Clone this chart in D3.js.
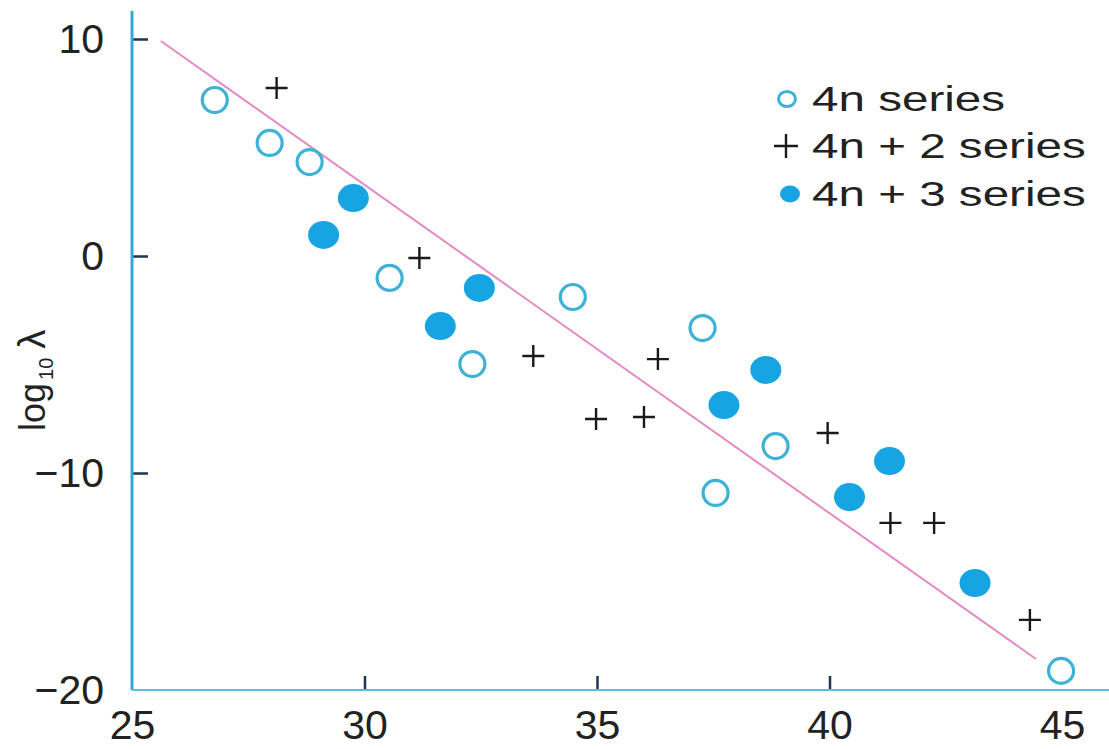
<!DOCTYPE html>
<html>
<head>
<meta charset="utf-8">
<script src="https://cdn.jsdelivr.net/npm/d3@7/dist/d3.min.js"></script>
<style>
  html, body { margin: 0; padding: 0; background: #ffffff; }
  svg { display: block; }
  text { font-family: "Liberation Sans", Arial, Helvetica, sans-serif; fill: #222; }
</style>
</head>
<body>
<svg id="chart" width="1109" height="749"></svg>
<script>
// ---- data ----
const xTickValues = [25, 30, 35, 40, 45];
const yTickValues = [10, 0, -10, -20];

// 4n series (open circles)
const series4n = [
  [26.78, 7.19], [27.96, 5.21], [28.82, 4.33], [30.54, -1.01], [32.32, -4.98],
  [34.48, -1.89], [37.27, -3.32], [37.55, -10.92], [38.84, -8.76], [44.98, -19.12]
];
// 4n + 2 series (plus signs)
const series4n2 = [
  [28.11, 7.74], [31.18, -0.09], [33.63, -4.61], [34.98, -7.51], [36.01, -7.42],
  [36.31, -4.75], [39.96, -8.16], [41.31, -12.30], [42.25, -12.30], [44.31, -16.77]
];
// 4n + 3 series (filled circles)
const series4n3 = [
  [29.12, 0.97], [29.76, 2.67], [31.63, -3.23], [32.47, -1.47], [37.73, -6.87],
  [38.63, -5.25], [40.43, -11.11], [41.29, -9.45], [43.13, -15.07]
];
// fitted straight line
const fitLine = [[25.62, 9.91], [44.44, -18.57]];

const legendLabels = ["4n series", "4n + 2 series", "4n + 3 series"];

// ---- drawing ----
const svg = d3.select("#chart");
const x = d3.scaleLinear().domain([25, 45]).range([132, 1062]);
const y = d3.scaleLinear().domain([-20, 10]).range([690, 39]);

const axisBlue = "#34a8da";
const tickDark = "#1f3550";
const openColor = "#3db2d6";
const fillColor = "#17a4e2";
const lineColor = "#e58ac3";
const textColor = "#262626";

// x axis
const xAxis = d3.axisBottom(x).tickValues(xTickValues).tickSize(-14).tickPadding(20)
  .tickFormat(d3.format("d"));
const gx = svg.append("g").attr("transform", `translate(0,${y(-20)})`).call(xAxis);
gx.select(".domain").remove();
gx.selectAll(".tick line").attr("stroke", tickDark).attr("stroke-width", 2.5)
  .attr("opacity", d => (d === 25 || d === 45) ? 0 : 1);
gx.selectAll(".tick text").attr("font-size", 41).attr("fill", textColor)
  .style("font-family", "Liberation Sans, Arial, sans-serif");

// y axis
const yAxis = d3.axisLeft(y).tickValues(yTickValues).tickSize(-16).tickPadding(28)
  .tickFormat(d => d < 0 ? "\u2212" + Math.abs(d) : String(d));
const gy = svg.append("g").attr("transform", `translate(${x(25)},0)`).call(yAxis);
gy.select(".domain").remove();
gy.selectAll(".tick line").attr("stroke", tickDark).attr("stroke-width", 2.5)
  .attr("opacity", d => d === -20 ? 0 : 1);
gy.selectAll(".tick text").attr("font-size", 41).attr("fill", textColor)
  .style("font-family", "Liberation Sans, Arial, sans-serif");

// axis lines
svg.append("line")
  .attr("x1", x(25)).attr("x2", x(25)).attr("y1", 11).attr("y2", y(-20))
  .attr("stroke", axisBlue).attr("stroke-width", 3);
svg.append("line")
  .attr("x1", x(25)).attr("x2", 1109).attr("y1", y(-20)).attr("y2", y(-20))
  .attr("stroke", "#5cbde0").attr("stroke-width", 2.2);

// y axis label
const ylab = svg.append("text")
  .attr("transform", `translate(45,431) rotate(-90)`)
  .attr("text-anchor", "start")
  .attr("font-size", 36)
  .attr("fill", textColor);
ylab.append("tspan").text("log");
ylab.append("tspan").attr("font-size", 20).attr("dy", 8).attr("dx", 3).text("10");
ylab.append("tspan").attr("font-size", 38).attr("dy", -8).attr("dx", 9).text("\u03BB");

// fitted line
svg.append("path")
  .datum(fitLine)
  .attr("d", d3.line().x(d => x(d[0])).y(d => y(d[1])))
  .attr("fill", "none").attr("stroke", lineColor).attr("stroke-width", 2);

// open circles
svg.append("g").selectAll("circle").data(series4n).join("circle")
  .attr("cx", d => x(d[0])).attr("cy", d => y(d[1])).attr("r", 12.5)
  .attr("fill", "none").attr("stroke", openColor).attr("stroke-width", 3.2);

// filled circles
svg.append("g").selectAll("ellipse").data(series4n3).join("ellipse")
  .attr("cx", d => x(d[0])).attr("cy", d => y(d[1])).attr("rx", 15.5).attr("ry", 14)
  .attr("fill", fillColor);

// plus signs
const plusPath = (cx, cy, s) => `M${cx - s},${cy}H${cx + s}M${cx},${cy - s}V${cy + s}`;
svg.append("g").selectAll("path").data(series4n2).join("path")
  .attr("d", d => plusPath(x(d[0]), y(d[1]), 11))
  .attr("stroke", "#1a1a1a").attr("stroke-width", 2.4).attr("fill", "none");

// legend
const legend = svg.append("g");
const rowY = [99, 146, 194];
legend.append("ellipse").attr("cx", 787).attr("cy", rowY[0]).attr("rx", 8.5).attr("ry", 7.5)
  .attr("fill", "none").attr("stroke", openColor).attr("stroke-width", 3);
legend.append("path").attr("d", plusPath(786, rowY[1], 12))
  .attr("stroke", "#1a1a1a").attr("stroke-width", 2.4);
legend.append("ellipse").attr("cx", 790).attr("cy", rowY[2]).attr("rx", 10).attr("ry", 8.5)
  .attr("fill", fillColor);
legend.selectAll("text.leg").data(legendLabels).join("text")
  .attr("class", "leg")
  .attr("transform", (d, i) => `translate(812,${rowY[i] + 12}) scale(1.36,1)`)
  .attr("font-size", 35)
  .attr("fill", textColor)
  .text(d => d);
</script>
</body>
</html>
